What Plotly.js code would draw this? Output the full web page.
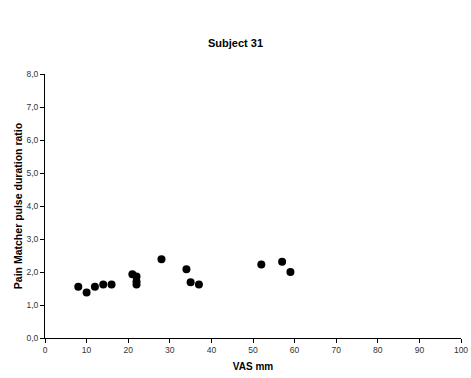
<!DOCTYPE html>
<html><head><meta charset="utf-8">
<script src="https://cdn.plot.ly/plotly-3.0.1.min.js"></script>
<style>html,body{margin:0;padding:0;background:#fff}#c{width:471px;height:378px}</style>
</head><body><div id="c"></div>
<script>
const vas = [8, 10, 12, 14, 16, 21, 22, 22, 22, 28, 34, 35, 37, 52, 57, 59];
const ratio = [1.55, 1.38, 1.55, 1.62, 1.62, 1.93, 1.86, 1.71, 1.62, 2.39, 2.08, 1.69, 1.62, 2.23, 2.31, 2.0];
const xTicks = [0,10,20,30,40,50,60,70,80,90,100];
const yTicks = [0,1,2,3,4,5,6,7,8];
const font = 'Liberation Sans, Arial, sans-serif';
Plotly.newPlot('c', [{
  x: vas, y: ratio, type: 'scatter', mode: 'markers',
  marker: {color: '#000', size: 8}
}], {
  width: 471, height: 378,
  separators: ',.',
  margin: {l: 45, r: 10, t: 74, b: 40},
  paper_bgcolor: '#fff', plot_bgcolor: '#fff',
  font: {family: font, size: 8, color: '#333'},
  title: {text: '<b>Subject 31</b>', font: {family: font, size: 11, color: '#000'}, x: 0.5, xanchor: 'center', y: 0.885, yanchor: 'middle'},
  xaxis: {range: [0, 100], tickvals: xTicks, ticks: 'outside', ticklen: 4, tickcolor: '#000',
    showline: true, linecolor: '#000', linewidth: 1, showgrid: false, zeroline: false,
    tickfont: {family: font, size: 8.5, color: '#333'},
    title: {text: '<b>VAS mm</b>', font: {family: font, size: 10, color: '#000'}, standoff: 8}},
  yaxis: {range: [0, 8], tickvals: yTicks, tickformat: '.1f', ticks: 'outside', ticklen: 4, tickcolor: '#000',
    showline: true, linecolor: '#000', linewidth: 1, showgrid: false, zeroline: false,
    tickfont: {family: font, size: 8.5, color: '#333'},
    title: {text: '<b>Pain Matcher pulse duration ratio</b>', font: {family: font, size: 10.5, color: '#000'}, standoff: 1}},
  showlegend: false
}, {displayModeBar: false, staticPlot: true});
</script></body></html>
